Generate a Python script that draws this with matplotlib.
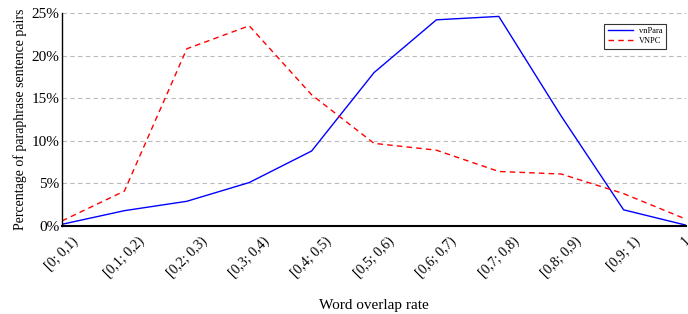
import numpy as np
import matplotlib
matplotlib.use("Agg")
import matplotlib.pyplot as plt
import matplotlib.transforms as mtransforms
from matplotlib.ticker import FuncFormatter

plt.rcParams['font.family'] = ['Liberation Serif', 'DejaVu Serif']
plt.rcParams['mathtext.fontset'] = 'stix'

categories = ['[0; 0,1)', '[0,1; 0,2)', '[0,2; 0,3)', '[0,3; 0,4)', '[0,4; 0,5)',
              '[0,5; 0,6)', '[0,6; 0,7)', '[0,7; 0,8)', '[0,8; 0,9)', '[0,9; 1)', '1']
vnpara = [0.2, 1.8, 2.9, 5.1, 8.8, 18.0, 24.2, 24.6, 12.9, 1.9, 0.1]
vnpc = [0.6, 4.1, 20.8, 23.5, 15.4, 9.7, 8.9, 6.4, 6.1, 3.8, 0.8]

fig = plt.figure(figsize=(6.88, 3.14), dpi=100)
ax = fig.add_axes([62 / 688, 1 - 226 / 314, 624 / 688, 213 / 314])

x = np.arange(len(categories))
ax.plot(x, vnpara, color='blue', lw=1.0, label='vnPara')
ax.plot(x, vnpc, color='red', lw=1.0, ls=(0, (4, 3)), label='VNPC')

ax.set_xlim(0, 10)
ax.set_ylim(0, 25)
ax.set_yticks([0, 5, 10, 15, 20, 25])
ax.yaxis.set_major_formatter(FuncFormatter(lambda v, p: '%d%%' % v))
ax.set_xticks(x)
ax.set_xticklabels(categories, rotation=45, ha='center', va='top', fontsize=10)
shift = mtransforms.ScaledTranslation(0.07, 0, fig.dpi_scale_trans)
for lab in ax.get_xticklabels():
    lab.set_transform(lab.get_transform() + shift)
ax.tick_params(axis='y', labelsize=11, length=0, pad=2)
ax.tick_params(axis='x', length=0, pad=6)
ax.yaxis.grid(True, color='#bbbbbb', ls=(0, (4, 3)), lw=0.8)
ax.set_axisbelow(True)
for s in ['top', 'right']:
    ax.spines[s].set_visible(False)
ax.spines['left'].set_linewidth(1.0)
ax.spines['bottom'].set_linewidth(1.5)

ax.set_ylabel('Percentage of paraphrase sentence pairs', fontsize=10, labelpad=3)
ax.set_xlabel('Word overlap rate', fontsize=11, labelpad=14)

leg = ax.legend(loc='upper right', bbox_to_anchor=(0.975, 0.97), fontsize=6,
                frameon=True, fancybox=False, edgecolor='black',
                handlelength=3, borderpad=0.4, labelspacing=0.3)
leg.get_frame().set_linewidth(0.8)

fig.savefig('out.png', dpi=100)
